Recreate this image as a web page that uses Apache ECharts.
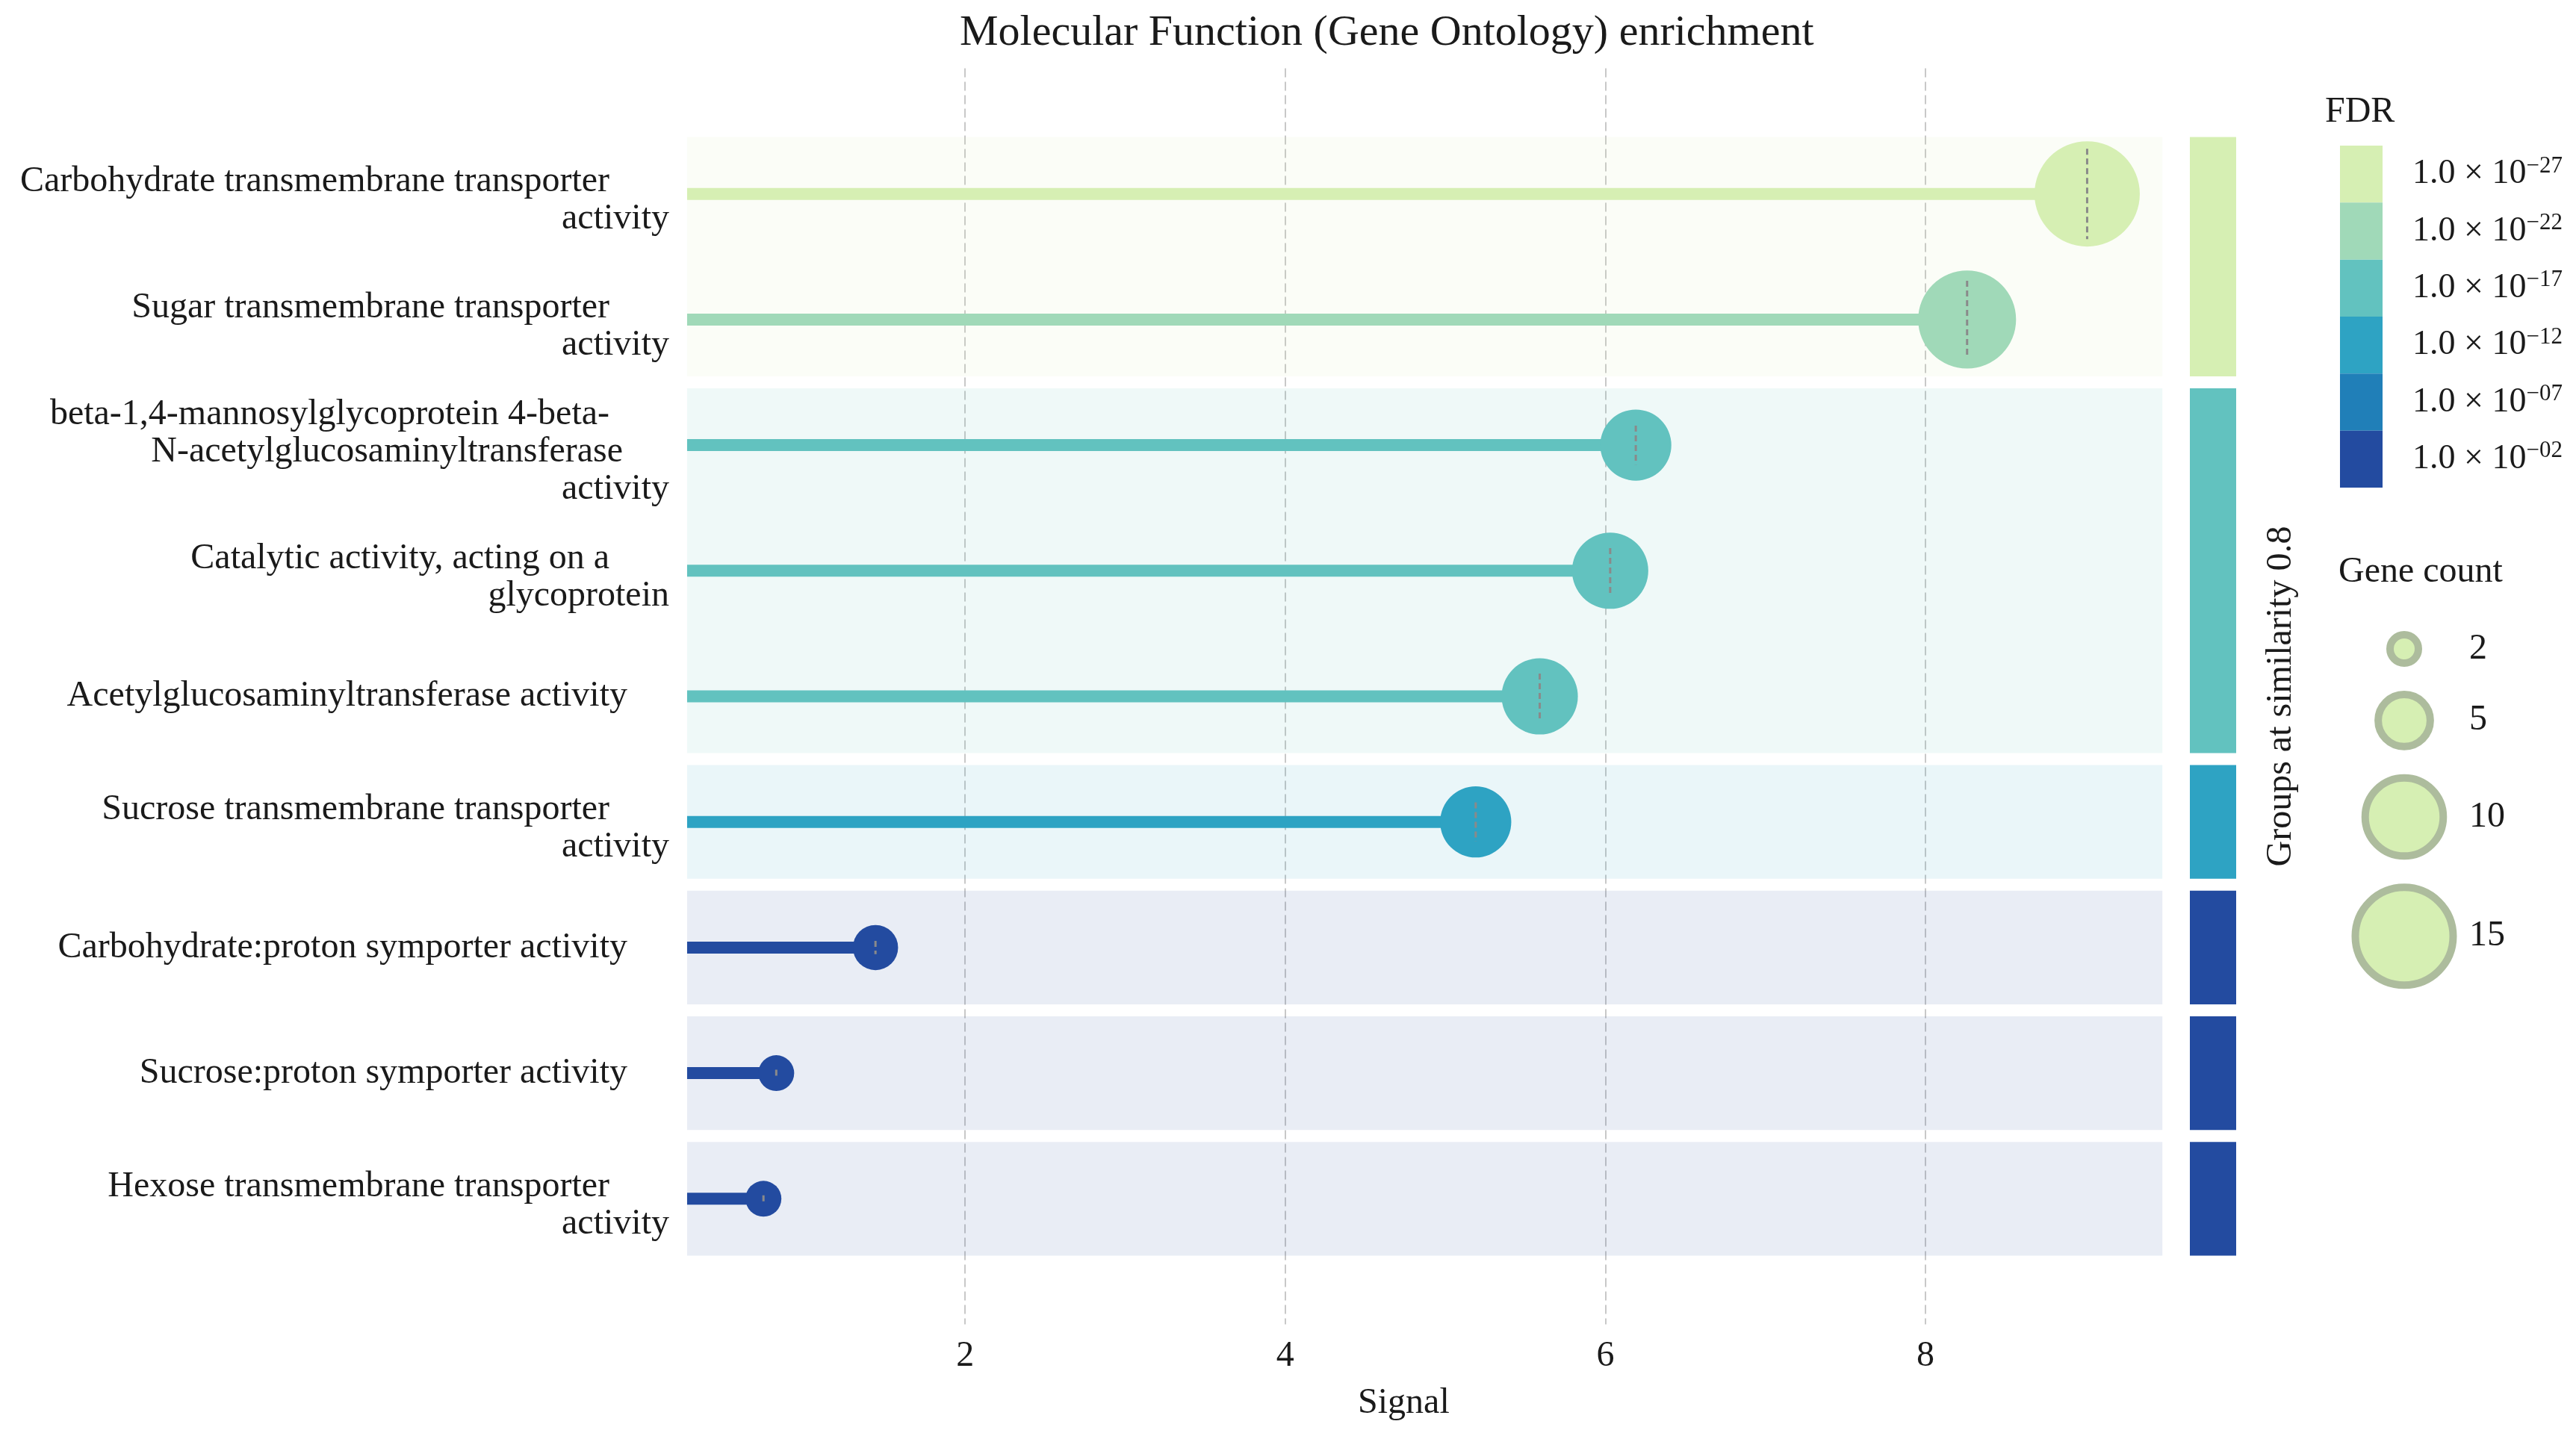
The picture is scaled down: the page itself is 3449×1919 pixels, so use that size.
<!DOCTYPE html>
<html><head><meta charset="utf-8">
<script src="https://cdn.jsdelivr.net/npm/echarts/dist/echarts.min.js"></script>
<style>html,body{margin:0;padding:0;background:#fff}#c{width:3449px;height:1919px}</style>
</head><body><div id="c"></div>
<script>
// ---------------- data ----------------
const categories = [
  'Carbohydrate transmembrane transporter\nactivity',
  'Sugar transmembrane transporter\nactivity',
  'beta-1,4-mannosylglycoprotein 4-beta-\nN-acetylglucosaminyltransferase\nactivity',
  'Catalytic activity, acting on a\nglycoprotein',
  'Acetylglucosaminyltransferase activity',
  'Sucrose transmembrane transporter\nactivity',
  'Carbohydrate:proton symporter activity',
  'Sucrose:proton symporter activity',
  'Hexose transmembrane transporter\nactivity'
];
const signal = [9.01, 8.26, 6.19, 6.03, 5.59, 5.19, 1.44, 0.82, 0.74];
const geneCount = [15, 13, 7, 8, 8, 7, 3, 2, 2];
const fdrExponent = [-27, -22, -17, -17, -17, -12, -2, -2, -2];
const groupStart = [0, 2, 5, 6, 7, 8];
const groupEnd = [1, 4, 5, 6, 7, 8];
const fdrTickExponents = [-27, -22, -17, -12, -7, -2];
const fdrColors = ['#d6efb3', '#a0d9b8', '#62c2bf', '#2ea3c3', '#207fb8', '#234ba0'];
const geneCountLegend = [2, 5, 10, 15];

// ---------------- style ----------------
const FONT = 'Liberation Serif';
const TXT = '#1a1a1a';
const X_START = 0.263, X_END = 9.48;
const BAND_GAP = 8;
const LEGEND_GAP = 32;
function radius(c) { return Math.sqrt(338 * c - 100); }
function colorForExp(e) {
  let best = 0, bd = Infinity;
  fdrTickExponents.forEach((t, i) => { const d = Math.abs(t - e); if (d < bd) { bd = d; best = i; } });
  return fdrColors[best];
}
function rgba(hex, a) {
  const n = parseInt(hex.slice(1), 16);
  return 'rgba(' + (n >> 16 & 255) + ',' + (n >> 8 & 255) + ',' + (n & 255) + ',' + a + ')';
}
function pad2(n) { return (n < 10 ? '0' : '') + n; }

const groupData = groupStart.map((s, i) => [s, groupEnd[i], fdrExponent[s]]);
const lollipopData = signal.map((v, i) => [v, i, geneCount[i], fdrExponent[i]]);

const legendR = geneCountLegend.map(radius);
const legendY = [];
(function () {
  let acc = legendR[0];
  legendR.forEach((r, i) => { if (i > 0) acc += legendR[i - 1] + r + LEGEND_GAP; legendY.push(acc); });
})();
const legendData = geneCountLegend.map((c, i) => ({ value: [0.5, legendY[i]], name: String(c), symbolSize: 2 * legendR[i] - 10 }));

const chart = echarts.init(document.getElementById('c'));
chart.setOption({
  animation: false,
  backgroundColor: '#ffffff',
  title: [
    { text: 'Molecular Function (Gene Ontology) enrichment', left: 1285, top: 16, padding: 0,
      textStyle: { fontFamily: FONT, fontSize: 58, fontWeight: 'normal', color: TXT } },
    { text: 'FDR', left: 3113, top: 126, padding: 0,
      textStyle: { fontFamily: FONT, fontSize: 48, fontWeight: 'normal', color: TXT } },
    { text: 'Gene count', left: 3131, top: 742, padding: 0,
      textStyle: { fontFamily: FONT, fontSize: 48, fontWeight: 'normal', color: TXT } }
  ],
  grid: [
    { left: 863.6, top: 91.5, width: 2031.6, height: 1682, outerBoundsMode: 'none' },
    { left: 2932, top: 91.5, width: 62, height: 1682, outerBoundsMode: 'none' },
    { left: 3133, top: 195, width: 57, height: 458, outerBoundsMode: 'none' },
    { left: 3169, top: 845, width: 100, height: 500, outerBoundsMode: 'none' }
  ],
  xAxis: [
    { gridIndex: 0, type: 'value', min: 0, max: X_END, interval: 2,
      axisLine: { show: false }, axisTick: { show: false },
      splitLine: { show: true, showMinLine: false, showMaxLine: false,
        lineStyle: { type: [12, 6], color: '#c8c8c8', width: 2 } },
      axisLabel: { fontFamily: FONT, fontSize: 48, color: TXT, margin: 19, showMinLabel: false, showMaxLabel: false },
      name: 'Signal', nameLocation: 'middle', nameGap: 82,
      nameTextStyle: { fontFamily: FONT, fontSize: 48, color: TXT } },
    { gridIndex: 1, type: 'value', min: 0, max: 1, show: false },
    { gridIndex: 2, type: 'value', min: 0, max: 1, show: false },
    { gridIndex: 3, type: 'value', min: 0, max: 1, show: false }
  ],
  yAxis: [
    { gridIndex: 0, type: 'value', min: -1, max: 9, interval: 1, inverse: true, offset: -56.4,
      axisLine: { show: false }, axisTick: { show: false }, splitLine: { show: false },
      axisLabel: {
        margin: 24,
        formatter: function (v) {
          const i = Math.round(v);
          if (Math.abs(v - i) > 1e-6 || i < 0 || i >= categories.length) return '';
          const lines = categories[i].split('\n');
          if (lines.length === 1) return '{s|' + lines[0] + '}';
          return '{g| }\n' + lines.map((t, k) => (k === lines.length - 1 ? '{l|' : (k === 0 ? '{f|' : '{b|')) + t + '}').join('\n');
        },
        rich: {
          g: { fontSize: 2, lineHeight: 18 },
          s: { fontFamily: FONT, fontSize: 48, color: TXT, lineHeight: 50, padding: [0, 56, 0, 0] },
          f: { fontFamily: FONT, fontSize: 48, color: TXT, lineHeight: 50, padding: [0, 80, 0, 0] },
          b: { fontFamily: FONT, fontSize: 48, color: TXT, lineHeight: 50, padding: [0, 62, 0, 0] },
          l: { fontFamily: FONT, fontSize: 48, color: TXT, lineHeight: 50 }
        }
      } },
    { gridIndex: 1, type: 'value', min: -1, max: 9, inverse: true, position: 'right',
      axisLine: { show: false }, axisTick: { show: false }, axisLabel: { show: false }, splitLine: { show: false },
      name: 'Groups at similarity 0.8', nameLocation: 'middle', nameRotate: 90, nameGap: 36,
      nameTextStyle: { fontFamily: FONT, fontSize: 48, color: TXT } },
    { gridIndex: 2, type: 'category', inverse: true, position: 'right',
      data: fdrTickExponents.map(String),
      axisLine: { show: false },
      axisTick: { show: true, alignWithLabel: true, length: 19, lineStyle: { color: '#111', width: 3 } },
      axisLabel: {
        margin: 40,
        formatter: function (v) { return '{a|1.0 × 10}{s|−' + pad2(-Number(v)) + '}'; },
        rich: {
          a: { fontFamily: FONT, fontSize: 46, color: TXT, lineHeight: 52 },
          s: { fontFamily: FONT, fontSize: 31, color: TXT, verticalAlign: 'top', lineHeight: 52 }
        }
      } },
    { gridIndex: 3, type: 'value', min: 0, max: 500, inverse: true, show: false }
  ],
  series: [
    { type: 'custom', xAxisIndex: 0, yAxisIndex: 0, z: 1, silent: true,
      data: groupData, encode: { y: [0, 1] },
      renderItem: function (params, api) {
        const s = api.value(0), e = api.value(1);
        const a = api.coord([X_START, s - 0.5]);
        const b = api.coord([X_END, e + 0.5]);
        return { type: 'rect',
          shape: { x: a[0], y: a[1] + BAND_GAP, width: b[0] - a[0], height: b[1] - a[1] - 2 * BAND_GAP },
          style: { fill: rgba(colorForExp(api.value(2)), 0.1) } };
      } },
    { type: 'custom', xAxisIndex: 0, yAxisIndex: 0, z: 3, silent: true, clip: false,
      data: lollipopData, encode: { x: 0, y: 1 },
      renderItem: function (params, api) {
        const x = api.value(0), y = api.value(1), c = api.value(2), e = api.value(3);
        const p0 = api.coord([X_START, y]);
        const p1 = api.coord([x, y]);
        const col = colorForExp(e);
        const r = radius(c);
        const dl = (8.6 * c - 8) / 2;
        return { type: 'group', children: [
          { type: 'line', shape: { x1: p0[0], y1: p0[1], x2: p1[0], y2: p1[1] },
            style: { stroke: col, lineWidth: 16, lineCap: 'butt' } },
          { type: 'circle', shape: { cx: p1[0], cy: p1[1], r: r }, style: { fill: col } },
          { type: 'line', shape: { x1: p1[0], y1: p1[1] - dl, x2: p1[0], y2: p1[1] + dl },
            style: { stroke: '#8a8a8a', lineWidth: 3, lineDash: [8, 5] } }
        ] };
      } },
    { type: 'custom', xAxisIndex: 1, yAxisIndex: 1, z: 2, silent: true,
      data: groupData, encode: { y: [0, 1] },
      renderItem: function (params, api) {
        const s = api.value(0), e = api.value(1);
        const a = api.coord([0, s - 0.5]);
        const b = api.coord([1, e + 0.5]);
        return { type: 'rect',
          shape: { x: a[0], y: a[1] + BAND_GAP, width: b[0] - a[0], height: b[1] - a[1] - 2 * BAND_GAP },
          style: { fill: colorForExp(api.value(2)) } };
      } },
    { type: 'bar', xAxisIndex: 2, yAxisIndex: 2, barWidth: '100%', silent: true,
      data: fdrColors.map(c => ({ value: 1, itemStyle: { color: c } })) },
    { type: 'scatter', xAxisIndex: 3, yAxisIndex: 3, silent: true,
      data: legendData,
      itemStyle: { color: '#d6efb3', borderColor: '#adbc9d', borderWidth: 10, opacity: 1 },
      label: { show: true, position: 'inside', align: 'left', verticalAlign: 'middle', offset: [87, 0],
        formatter: '{b}', fontFamily: FONT, fontSize: 48, color: TXT } }
  ]
});
</script>
</body></html>
